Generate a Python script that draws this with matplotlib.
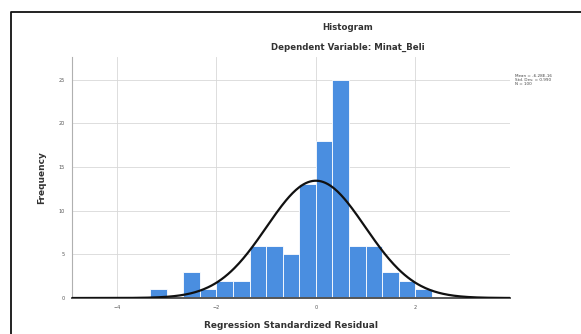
import numpy as np
import matplotlib
matplotlib.use("Agg")
import matplotlib.pyplot as plt
from matplotlib.lines import Line2D

# Data
bin_left_edges = [-10/3, -3.0, -8/3, -7/3, -2.0, -5/3, -4/3, -1.0, -2/3, -1/3,
                  0.0, 1/3, 2/3, 1.0, 4/3, 5/3, 2.0]
frequencies = [1, 0, 3, 1, 2, 2, 6, 6, 5, 13, 18, 25, 6, 6, 3, 2, 1]
bin_width = 1/3
mean_val = 0.0
std_val = 0.990
n_obs = 100
x_ticks = [-4, -2, 0, 2]
y_ticks = [0, 5, 10, 15, 20, 25]
stats_text = ["Mean = -6.28E-16", "Std. Dev. = 0.990", "N = 100"]

W, H = 581, 334
fig = plt.figure(figsize=(W/100, H/100), dpi=100)
fig.patch.set_facecolor("white")

ax = fig.add_axes([72/W, 1-298/H, (510-72)/W, (298-57)/H])
ax.set_xlim(-4.9, 3.9)
ax.set_ylim(0, 27.6)

ax.bar(bin_left_edges, frequencies, width=bin_width, align="edge",
       color="#4a8ee0", edgecolor="white", linewidth=0.6, zorder=2)

xs = np.linspace(-4.9, 3.9, 400)
pdf = n_obs * bin_width * np.exp(-0.5 * ((xs - mean_val) / std_val) ** 2) / (std_val * np.sqrt(2*np.pi))
ax.plot(xs, pdf, color="#111111", lw=1.6, zorder=3)

ax.set_xticks(x_ticks)
ax.set_yticks(y_ticks)
ax.tick_params(axis="both", labelsize=3.5, colors="#555555", length=0, pad=5)
ax.grid(True, color="#d8d8d8", lw=0.6, zorder=0)
ax.set_axisbelow(True)
for s in ["top", "right"]:
    ax.spines[s].set_visible(False)
ax.spines["left"].set_color("#b0b0b0")
ax.spines["left"].set_linewidth(0.8)
ax.spines["bottom"].set_color("#555555")
ax.spines["bottom"].set_linewidth(1.4)

ax.set_xlabel("Regression Standardized Residual", fontsize=6.5, fontweight="bold",
              color="#333333", labelpad=8)
ax.set_ylabel("Frequency", fontsize=6.5, fontweight="bold", color="#333333", labelpad=9)

fig.text(348/W, 1-28/H, "Histogram", ha="center", va="center", fontsize=6.2,
         fontweight="bold", color="#333333")
fig.text(348/W, 1-47/H, "Dependent Variable: Minat_Beli", ha="center", va="center",
         fontsize=6.2, fontweight="bold", color="#333333")

fig.text(515/W, 1-80/H, "\n".join(stats_text), ha="left", va="center",
         fontsize=3, color="#444444", linespacing=1.0)

# Frame (top and left edges)
fig.add_artist(Line2D([11/W, 11/W, 1.0], [0.0, 1-11.5/H, 1-11.5/H],
                      transform=fig.transFigure, color="#111111", lw=1.3))

fig.savefig("out.png", dpi=100)
